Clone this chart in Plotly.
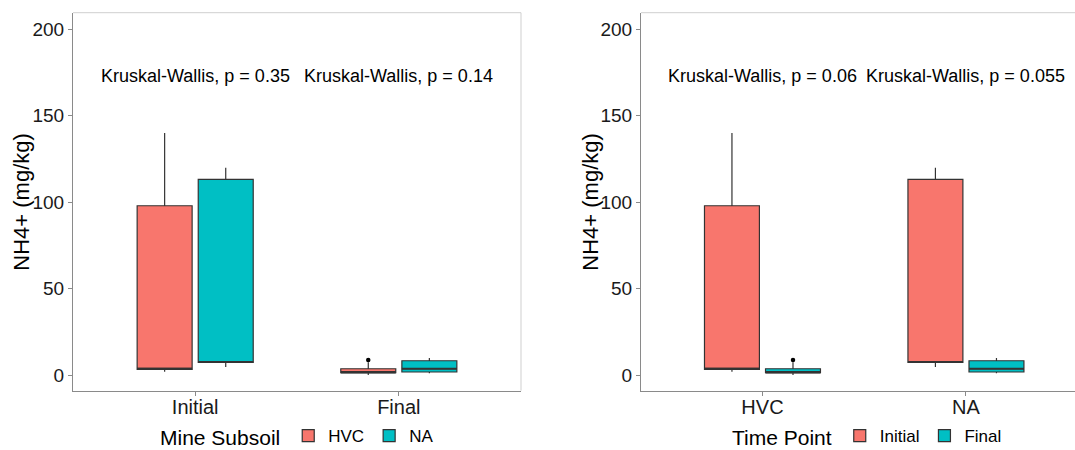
import plotly.graph_objects as go

# ---- data: NH4+ (mg/kg) box statistics by time point and mine subsoil ----
time_points = ["Initial", "Final"]
subsoils = ["HVC", "NA"]

# per subsoil, one value per time point (Initial, Final)
hvc_lower = [2.1, 0.2]
hvc_q1 = [3.4, 1.5]
hvc_median = [3.7, 1.7]
hvc_q3 = [98.0, 3.8]
hvc_upper = [140.0, 7.5]

na_lower = [4.8, 1.2]
na_q1 = [7.4, 1.9]
na_median = [7.7, 3.8]
na_q3 = [113.2, 8.4]
na_upper = [120.0, 10.0]

# outliers: (subsoil, time point, value)
outliers = [("HVC", "Final", 8.8)]

# Kruskal-Wallis p-values
p_by_time = ["0.35", "0.14"]     # within Initial, Final (left panel)
p_by_soil = ["0.06", "0.055"]    # within HVC, NA (right panel)

stats = {
    "HVC": dict(lower=hvc_lower, q1=hvc_q1, median=hvc_median, q3=hvc_q3, upper=hvc_upper),
    "NA": dict(lower=na_lower, q1=na_q1, median=na_median, q3=na_q3, upper=na_upper),
}

RED = "#F8766D"
TEAL = "#00BFC4"
EDGE = "#333333"
FONT = "Liberation Sans, Arial, sans-serif"

DODGE = 0.15      # offset of each box from its category centre
BOX_W = 0.27      # box width in category units

fig = go.Figure()


def add_boxes(xref, yref, legend, names, colors, cats, getter):
    """One box trace per fill group; getter(group, cat_index, key) -> value."""
    n = len(names)
    for gi, (name, color) in enumerate(zip(names, colors)):
        off = (gi - (n - 1) / 2) * 2 * DODGE
        xs = [ci + off for ci in range(len(cats))]
        keys = ["lower", "q1", "median", "q3", "upper"]
        vals = {k: [getter(name, ci, k) for ci in range(len(cats))] for k in keys}
        fig.add_trace(go.Box(
            x=xs, q1=vals["q1"], median=vals["median"], q3=vals["q3"],
            lowerfence=vals["lower"], upperfence=vals["upper"],
            width=BOX_W, name=name, fillcolor=color,
            line=dict(color=EDGE, width=1.2), whiskerwidth=0,
            boxpoints=False, hoverinfo="skip",
            xaxis=xref, yaxis=yref, legend=legend, showlegend=True,
        ))
        # thicker median bar, as drawn by ggplot
        mx, my = [], []
        for x, m in zip(xs, vals["median"]):
            mx += [x - BOX_W / 2, x + BOX_W / 2, None]
            my += [m, m, None]
        fig.add_trace(go.Scatter(
            x=mx, y=my, mode="lines", line=dict(color=EDGE, width=2.2),
            xaxis=xref, yaxis=yref, showlegend=False, hoverinfo="skip",
        ))


# left panel: x = time point, fill = subsoil
add_boxes("x", "y", "legend", subsoils, [RED, TEAL], time_points,
          lambda g, ci, k: stats[g][k][ci])
# right panel: x = subsoil, fill = time point
add_boxes("x2", "y2", "legend2", time_points, [RED, TEAL], subsoils,
          lambda g, ci, k: stats[subsoils[ci]][k][time_points.index(g)])

# outlier points
for soil, tp, val in outliers:
    si, ti = subsoils.index(soil), time_points.index(tp)
    x_left = ti + (si - 0.5) * 2 * DODGE
    x_right = si + (ti - 0.5) * 2 * DODGE
    for xr, yr, xv in (("x", "y", x_left), ("x2", "y2", x_right)):
        fig.add_trace(go.Scatter(
            x=[xv], y=[val], mode="markers",
            marker=dict(color="black", size=4.5),
            xaxis=xr, yaxis=yr, showlegend=False, hoverinfo="skip",
        ))

# p-value labels
for xr, yr, pvals in (("x", "y", p_by_time), ("x2", "y2", p_by_soil)):
    for i, p in enumerate(pvals):
        fig.add_annotation(x=i, y=173, xref=xr, yref=yr, showarrow=False,
                           text=f"Kruskal-Wallis, p = {p}",
                           font=dict(family=FONT, size=18, color="black"))

W, H = 1075, 450
Y_DOM = [(450 - 390.7) / 450, (450 - 12.7) / 450]
Y_RANGE = [-8.9, 209.6]
AX_LINE = "#8a8a8a"

xcommon = dict(showgrid=False, zeroline=False, showline=True, linecolor=AX_LINE,
               linewidth=1, ticks="outside", ticklen=4, tickcolor=AX_LINE,
               automargin=False, ticklabelstandoff=-6,
               tickfont=dict(family=FONT, size=20, color="#1a1a1a"))
ycommon = dict(showgrid=False, zeroline=False, showline=True, linecolor=AX_LINE,
               linewidth=1, ticks="outside", ticklen=4, tickcolor=AX_LINE,
               automargin=False,
               tickvals=[0, 50, 100, 150, 200], range=Y_RANGE, domain=Y_DOM,
               tickfont=dict(family=FONT, size=19, color="#1a1a1a"))

legend_common = dict(orientation="h", xanchor="left", yanchor="middle",
                     xref="container", yref="container", y=(450 - 437) / 450,
                     font=dict(family=FONT, size=17, color="black"),
                     itemwidth=30, tracegroupgap=0, bgcolor="rgba(0,0,0,0)")

fig.update_layout(
    width=W, height=H, margin=dict(l=0, r=0, t=0, b=0, autoexpand=False),
    paper_bgcolor="white", plot_bgcolor="white",
    boxmode="overlay",
    xaxis=dict(**xcommon, domain=[73 / W, 521 / W], range=[-0.6, 1.6],
               tickvals=[0, 1], ticktext=time_points),
    yaxis=dict(**ycommon, anchor="x"),
    xaxis2=dict(**xcommon, domain=[641 / W, 1.0], range=[-0.597, 1.536],
                tickvals=[0, 1], ticktext=subsoils, anchor="y2"),
    yaxis2=dict(**ycommon, anchor="x2"),
    legend=dict(**legend_common, x=158 / W,
                title=dict(text="Mine Subsoil", side="left",
                           font=dict(family=FONT, size=21, color="black"))),
    legend2=dict(**legend_common, x=730 / W,
                 title=dict(text="Time Point", side="left",
                            font=dict(family=FONT, size=21, color="black"))),
    showlegend=True,
)

# light panel borders on the top and right sides
for xd_l, xd_r, draw_right in ((73 / W, 521 / W, True), (641 / W, 1.0, False)):
    fig.add_shape(type="line", xref="paper", yref="paper",
                  x0=xd_l, x1=xd_r, y0=Y_DOM[1], y1=Y_DOM[1],
                  line=dict(color="#cfcfcf", width=1))
    if draw_right:
        fig.add_shape(type="line", xref="paper", yref="paper",
                      x0=xd_r, x1=xd_r, y0=Y_DOM[0], y1=Y_DOM[1],
                      line=dict(color="#cfcfcf", width=1))

# y-axis titles
for xp in (22 / W, 591 / W):
    fig.add_annotation(x=xp, y=(Y_DOM[0] + Y_DOM[1]) / 2, xref="paper", yref="paper",
                       xanchor="center", yanchor="middle",
                       text="NH4+ (mg/kg)", textangle=-90, showarrow=False,
                       font=dict(family=FONT, size=22, color="black"))

fig.write_html("out.html")
